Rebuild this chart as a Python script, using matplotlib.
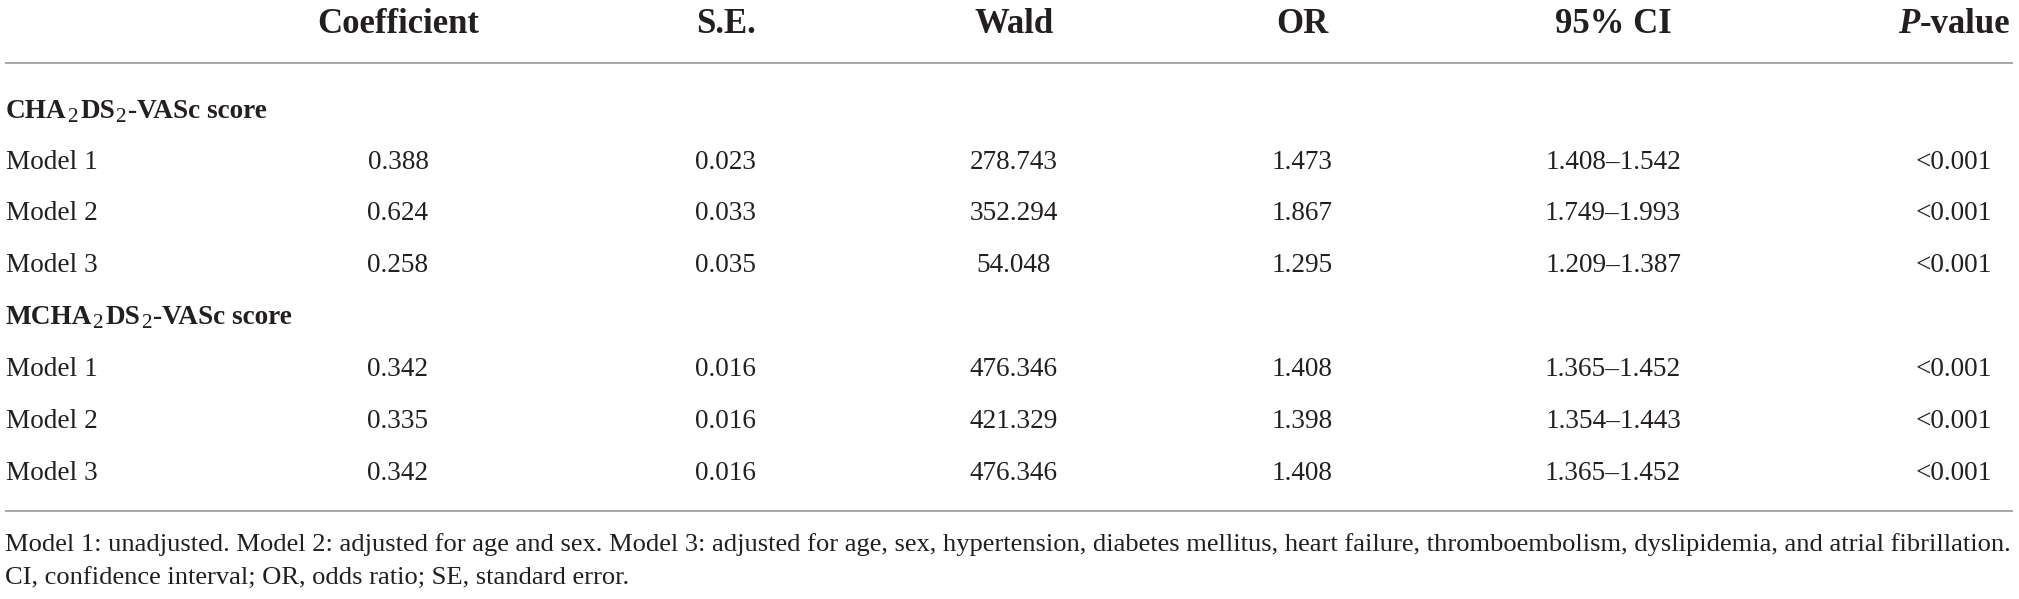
import matplotlib
matplotlib.use('Agg')
import matplotlib.pyplot as plt

plt.rcParams['font.family'] = ['Liberation Serif', 'DejaVu Serif']

# table contents
columns = ['Coefficient', 'S.E.', 'Wald', 'OR', '95% CI', 'P-value']
groups = [['CHA', '2', 'DS', '2', '-VASc score'],
          ['MCHA', '2', 'DS', '2', '-VASc score']]
models = ['Model 1', 'Model 2', 'Model 3']
coef = [[0.388, 0.624, 0.258], [0.342, 0.335, 0.342]]
se = [[0.023, 0.033, 0.035], [0.016, 0.016, 0.016]]
wald = [[278.743, 352.294, 54.048], [476.346, 421.329, 476.346]]
odds = [[1.473, 1.867, 1.295], [1.408, 1.398, 1.408]]
ci_low = [[1.408, 1.749, 1.209], [1.365, 1.354, 1.365]]
ci_high = [[1.542, 1.993, 1.387], [1.452, 1.443, 1.452]]
p_text = [['<0.001', '<0.001', '<0.001'], ['<0.001', '<0.001', '<0.001']]
notes = ['Model 1: unadjusted. Model 2: adjusted for age and sex. Model 3: adjusted for age, sex, '
         'hypertension, diabetes mellitus, heart failure, thromboembolism, dyslipidemia, and atrial fibrillation.',
         'CI, confidence interval; OR, odds ratio; SE, standard error.']

# layout (pixels)
W, H = 2019, 599
col_x = [398, 726, 1014, 1302, 1613, 1954]
left = 6
head_y = 33
group_y = [118, 324]
row_y = [[169, 220, 272], [376, 428, 480]]
rule_y = [63, 511]
note_y = [551, 585]
ink = '#231f20'
body_fs = 19.6
head_fs = 25

fig = plt.figure(figsize=(W / 100, H / 100), dpi=100)
ax = fig.add_axes([0, 0, 1, 1])
ax.set_xlim(0, W)
ax.set_ylim(H, 0)
ax.axis('off')
renderer = fig.canvas.get_renderer()


def width(t):
    return t.get_window_extent(renderer).width


def pieces(parts, x, y, ha='left'):
    # parts: list of (text, kwargs, dy, gap_after)
    objs = []
    for s, kw, dy, gap in parts:
        objs.append((ax.text(0, y + dy, s, va='baseline', ha='left', color=ink, **kw), gap))
    total = sum(width(t) + g for t, g in objs) - objs[-1][1]
    cx = x - total / 2 if ha == 'center' else x
    for t, g in objs:
        t.set_x(cx)
        cx += width(t) + g


# header
for name, x in zip(columns, col_x):
    if name == 'P-value':
        pieces([('P', dict(fontsize=head_fs, fontweight='bold', fontstyle='italic'), 0, 0),
                ('-value', dict(fontsize=head_fs, fontweight='bold'), 0, 0)], x, head_y, ha='center')
    else:
        ax.text(x, head_y, name, ha='center', va='baseline', fontsize=head_fs,
                fontweight='bold', color=ink)

for y in rule_y:
    ax.plot([5, 2013], [y, y], color='#9a9a9a', lw=1.2, solid_capstyle='butt')

bold = dict(fontsize=body_fs, fontweight='bold')
sub = dict(fontsize=body_fs * 0.78)
for g, parts in enumerate(groups):
    pieces([(parts[0], bold, 0, 0), (parts[1], sub, 4, 3), (parts[2], bold, 0, 0),
            (parts[3], sub, 4, 2), (parts[4], bold, 0, 0)], left, group_y[g])
    for i, m in enumerate(models):
        y = row_y[g][i]
        cells = [f'{coef[g][i]:.3f}', f'{se[g][i]:.3f}', f'{wald[g][i]:.3f}',
                 f'{odds[g][i]:.3f}', f'{ci_low[g][i]:.3f}\u2013{ci_high[g][i]:.3f}', p_text[g][i]]
        ax.text(left, y, m, ha='left', va='baseline', fontsize=body_fs, color=ink)
        for s, x in zip(cells, col_x):
            ax.text(x, y, s, ha='center', va='baseline', fontsize=body_fs, color=ink)

# footnote, sized to span the table width
t1 = ax.text(5, note_y[0], notes[0], ha='left', va='baseline', fontsize=18, color=ink)
note_fs = 18 * 2006 / width(t1)
t1.set_fontsize(note_fs)
ax.text(5, note_y[1], notes[1], ha='left', va='baseline', fontsize=note_fs, color=ink)

fig.savefig('out.png', dpi=100, facecolor='white')
